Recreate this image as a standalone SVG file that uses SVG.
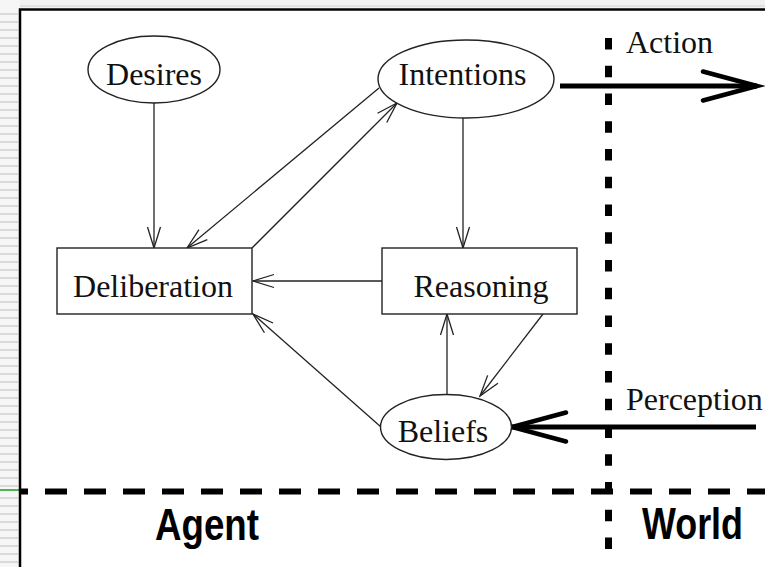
<svg xmlns="http://www.w3.org/2000/svg" width="765" height="567" viewBox="0 0 765 567">
  <defs>
    <marker id="thin" markerUnits="userSpaceOnUse" markerWidth="30" markerHeight="20" viewBox="-25 -10 30 20" refX="0" refY="0" orient="auto" overflow="visible">
      <path d="M -21 -6.5 L 0 0 L -21 6.5" fill="none" stroke="#222" stroke-width="1.3"/>
    </marker>
    <marker id="thick" markerUnits="userSpaceOnUse" markerWidth="70" markerHeight="40" viewBox="-60 -20 70 40" refX="0" refY="0" orient="auto" overflow="visible">
      <path d="M -54 -14.5 L 0 0 L -54 14.5" fill="none" stroke="#000" stroke-width="4.5" stroke-linecap="round" stroke-linejoin="miter"/>
    </marker>
  </defs>
  <style>
    .lbl { font-family: "Liberation Serif", "Times New Roman", serif; font-size: 32px; fill: #111; }
    .big { font-family: "Liberation Sans", Arial, sans-serif; font-size: 44px; font-weight: bold; fill: #000; }
    .node { fill: #fff; stroke: #222; stroke-width: 1.4; }
    .conn { stroke: #222; stroke-width: 1.3; fill: none; marker-end: url(#thin); }
    .io { stroke: #000; stroke-width: 5; fill: none; marker-end: url(#thick); }
  </style>
  <rect x="0" y="0" width="765" height="567" fill="#fff"/>
  <!-- background strip -->
  <g id="background">
    <rect x="0" y="0" width="765" height="8" fill="#f0f0f0"/>
    <line x1="0" y1="6" x2="765" y2="6" stroke="#dcdcdc" stroke-width="1.5"/>
    <rect x="0" y="0" width="20" height="567" fill="#f6f6f6"/>
    <path d="M0 14H18M0 22H18M0 30H18M0 38H18M0 46H18M0 54H18M0 62H18M0 70H18M0 78H18M0 86H18M0 94H18M0 102H18M0 110H18M0 118H18M0 126H18M0 134H18M0 142H18M0 150H18M0 158H18M0 166H18M0 174H18M0 182H18M0 190H18M0 198H18M0 206H18M0 214H18M0 222H18M0 230H18M0 238H18M0 246H18M0 254H18M0 262H18M0 270H18M0 278H18M0 286H18M0 294H18M0 302H18M0 310H18M0 318H18M0 326H18M0 334H18M0 342H18M0 350H18M0 358H18M0 366H18M0 374H18M0 382H18M0 390H18M0 398H18M0 406H18M0 414H18M0 422H18M0 430H18M0 438H18M0 446H18M0 454H18M0 462H18M0 470H18M0 478H18M0 486H18M0 498H18M0 506H18M0 514H18M0 522H18M0 530H18M0 538H18M0 546H18M0 554H18M0 562H18" stroke="#d9d9d9" stroke-width="2"/>
    <line x1="0" y1="490" x2="20" y2="490" stroke="#1c9a1c" stroke-width="1.5"/>
    <rect x="20" y="9.5" width="800" height="600" fill="#fff" stroke="#000" stroke-width="2.5"/>
  </g>
  <!-- boundaries -->
  <g id="boundaries">
    <line x1="20" y1="491.5" x2="765" y2="491.5" stroke="#000" stroke-width="6" stroke-dasharray="22 17" stroke-dashoffset="14"/>
    <line x1="608.5" y1="38" x2="608.5" y2="556" stroke="#000" stroke-width="7" stroke-dasharray="11.5 16.25"/>
  </g>
  <!-- connectors -->
  <g id="connectors">
    <line class="conn" x1="154" y1="103" x2="154" y2="248"/>
    <line class="conn" x1="379" y1="88" x2="187" y2="248"/>
    <line class="conn" x1="252" y1="248" x2="397" y2="103"/>
    <line class="conn" x1="463" y1="118" x2="463" y2="248"/>
    <line class="conn" x1="382" y1="281" x2="253" y2="281"/>
    <line class="conn" x1="381" y1="427" x2="253" y2="314"/>
    <line class="conn" x1="447" y1="394" x2="447" y2="314"/>
    <line class="conn" x1="543" y1="314" x2="480" y2="396"/>
    <line class="io" x1="560" y1="86" x2="757" y2="86"/>
    <line class="io" x1="756" y1="427" x2="512" y2="427"/>
  </g>
  <g id="desires">
    <ellipse class="node" cx="154" cy="69.5" rx="66" ry="33.5"/>
    <text class="lbl" x="154" y="85" text-anchor="middle">Desires</text>
  </g>
  <g id="intentions">
    <ellipse class="node" cx="466" cy="79" rx="88" ry="39"/>
    <text class="lbl" x="462.5" y="85" text-anchor="middle">Intentions</text>
  </g>
  <g id="deliberation">
    <rect class="node" x="57" y="248" width="195" height="66"/>
    <text class="lbl" x="153" y="297" text-anchor="middle">Deliberation</text>
  </g>
  <g id="reasoning">
    <rect class="node" x="382" y="248" width="195" height="66"/>
    <text class="lbl" x="481" y="297" text-anchor="middle">Reasoning</text>
  </g>
  <g id="beliefs">
    <ellipse class="node" cx="446" cy="427" rx="65.5" ry="32.5"/>
    <text class="lbl" x="443" y="442" text-anchor="middle">Beliefs</text>
  </g>
  <g id="labels">
    <text class="lbl" x="626" y="53">Action</text>
    <text class="lbl" x="626" y="410">Perception</text>
    <text class="big" x="155" y="540" textLength="104" lengthAdjust="spacingAndGlyphs">Agent</text>
    <text class="big" x="642" y="539" textLength="101" lengthAdjust="spacingAndGlyphs">World</text>
  </g>
</svg>
